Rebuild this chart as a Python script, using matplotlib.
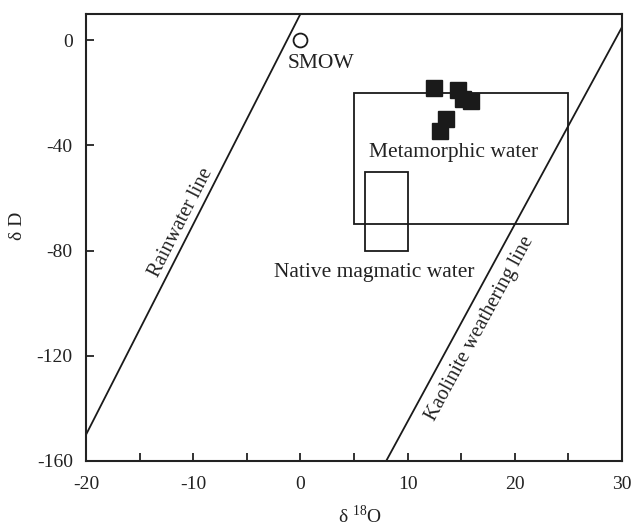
import matplotlib
matplotlib.use("Agg")
import matplotlib.pyplot as plt
from matplotlib.patches import Rectangle
import numpy as np

plt.rcParams['font.family'] = ['Liberation Serif', 'DejaVu Serif']
plt.rcParams['mathtext.fontset'] = 'custom'
plt.rcParams['mathtext.rm'] = 'Liberation Serif'
plt.rcParams['axes.unicode_minus'] = False

# data
sample_d18O = [12.5, 14.7, 15.2, 15.9, 13.6, 13.0]
sample_dD = [-18, -19, -22.5, -23, -30, -34.5]
smow = (0, 0)
rain_slope, rain_int = 8.0, 10.0
kaol_slope, kaol_int = 7.5, -220.0
meta_box = (5, 25, -70, -20)   # xmin, xmax, ymin, ymax
magma_box = (6, 10, -80, -50)
xticks = [-20, -10, 0, 10, 20, 30]
yticks = [0, -40, -80, -120, -160]

fig = plt.figure(figsize=(6.33, 5.26), dpi=100)
ax = fig.add_axes([0.1359, 0.1236, 0.8467, 0.8498])
ax.set_xlim(-20, 30)
ax.set_ylim(-160, 10)

xs = np.array([-25, 35])
ax.plot(xs, rain_slope * xs + rain_int, color='#1a1a1a', lw=1.3)
ax.plot(xs, kaol_slope * xs + kaol_int, color='#1a1a1a', lw=1.3)

for (x0, x1, y0, y1) in [meta_box, magma_box]:
    ax.add_patch(Rectangle((x0, y0), x1 - x0, y1 - y0, fill=False, ec='#1a1a1a', lw=1.3))

ax.plot(sample_d18O, sample_dD, 's', color='#1a1a1a', ms=11, mec='#1a1a1a')
ax.plot([smow[0]], [smow[1]], 'o', mfc='white', mec='#1a1a1a', ms=10, mew=1.3)

fs = 15.5
tc = '#222222'
ax.text(1.9, -8.7, 'SMOW', fontsize=fs, ha='center', va='center', color=tc)
ax.text(14.3, -42.5, 'Metamorphic water', fontsize=fs, ha='center', va='center', color=tc)
ax.text(6.9, -88.5, 'Native magmatic water', fontsize=fs, ha='center', va='center', color=tc)
ax.text(-11.1, -69.2, 'Rainwater line', fontsize=14.7, ha='center', va='center', rotation=63, color=tc)
ax.text(16.75, -109.5, 'Kaolinite weathering line', fontsize=14.7, ha='center', va='center', rotation=61.5, color=tc)

ax.set_xticks(xticks)
ax.set_xticks(np.arange(-20, 31, 5), minor=True)
ax.set_yticks(yticks)
ax.tick_params(which='both', direction='in', labelsize=14, colors=tc, width=1.3, length=6)
ax.tick_params(axis='x', pad=11)
ax.tick_params(axis='y', pad=9.5)
for s in ax.spines.values():
    s.set_linewidth(1.5)
    s.set_color(tc)

ax.set_xlabel('δ $^{\\mathregular{18}}$O', fontsize=14, color=tc)
ax.xaxis.set_label_coords(0.511, -0.098)
ax.set_ylabel('δ D', fontsize=14, color=tc)
ax.yaxis.set_label_coords(-0.112, 0.526)

fig.savefig('out.png', dpi=100)
